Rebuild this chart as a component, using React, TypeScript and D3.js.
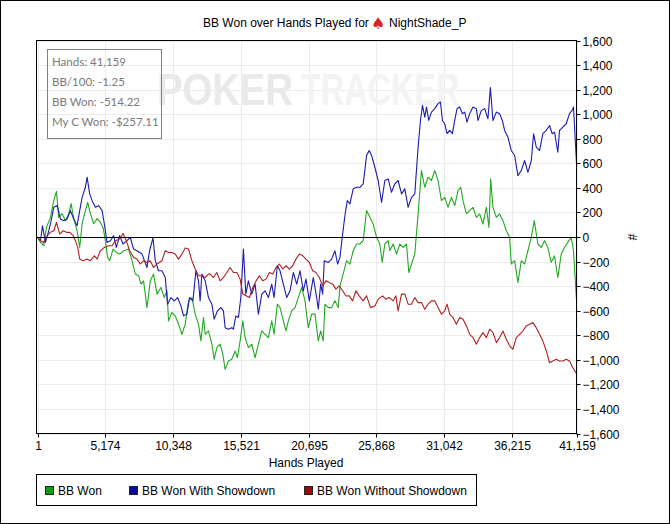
import React from 'react';
import * as d3 from 'd3';

// hands / cumulative BB samples
const greenHands: number[] = [
  1, 230, 480, 686, 991, 1242, 1448, 1624, 1883, 2134, 2386, 2569, 2767, 3026, 3224, 3407, 3659, 3834, 4040, 4291,
  4550, 4802, 5008, 5183, 5358, 5511, 5770, 6021, 6273, 6578, 6959, 7218, 7470, 7721, 7904, 8102, 8361, 8613, 8864, 9124,
  9428, 9680, 9886, 10008, 10267, 10518, 10770, 11029, 11281, 11532, 11791, 12043, 12294, 12477, 12676, 12805, 13057, 13316, 13491, 13697,
  13948, 14154, 14329, 14581, 14840, 15092, 15267, 15473, 15678, 15854, 16105, 16364, 16616, 16868, 17127, 17378, 17630, 17889, 18064, 18316,
  18521, 18773, 18979, 19154, 19413, 19665, 19916, 20175, 20427, 20678, 20938, 21189, 21441, 21624, 21822, 21951, 22203, 22462, 22714, 22965,
  23095, 23346, 23605, 23857, 24108, 24367, 24619, 24870, 25129, 25381, 25632, 25892, 26143, 26319, 26525, 26776, 26906, 27157, 27416, 27668,
  27920, 28179, 28354, 28560, 28811, 29063, 29322, 29573, 29825, 30084, 30335, 30587, 30846, 31098, 31349, 31608, 31860, 32111, 32317, 32493,
  32752, 33003, 33255, 33514, 33765, 34017, 34276, 34474, 34604, 34780, 35039, 35290, 35542, 35801, 36053, 36182, 36434, 36685, 36944, 37196,
  37448, 37707, 37935, 38209, 38468, 38720, 38971, 39230, 39482, 39733, 39993, 40244, 40496, 40755, 40930, 41159,
];
const greenBB: number[] = [
  0, -44, -70, 78, 160, 296, 372, 160, 190, 133, 190, 272, 150, 51, -85, 108, 215, 282, 190, 108,
  150, 119, 78, -30, -166, -193, -98, -126, -139, -112, -98, -193, -302, -316, -384, -357, -575, -357, -302, -465,
  -411, -493, -438, -683, -615, -642, -710, -792, -710, -520, -493, -628, -710, -846, -656, -792, -765, -873, -996, -901,
  -873, -955, -1078, -1010, -996, -928, -983, -846, -683, -819, -901, -873, -983, -873, -765, -792, -819, -683, -792, -547,
  -575, -683, -765, -683, -602, -575, -493, -411, -520, -738, -628, -628, -846, -765, -846, -547, -575, -575, -520, -575,
  -400, -300, -193, -220, -112, -57, -57, -30, 215, 160, 106, -3, -57, -207, -57, -30, -112, -57, -139, -57,
  -85, -57, -289, -220, -139, 188, 541, 405, 487, 460, 541, 460, 296, 323, 242, 323, 256, 378, 405, 296,
  188, 215, 242, 160, 188, 106, 242, 78, 473, 242, 160, 188, 133, 51, -3, -220, -193, -371, -193, -220,
  -112, -3, 133, -57, -85, -30, -85, -207, -153, -330, -139, -85, -44, -3, -112, -514,
];

const blueHands: number[] = [
  1, 230, 381, 610, 861, 1044, 1242, 1502, 1753, 2005, 2264, 2515, 2767, 3026, 3224, 3407, 3659, 3788, 3986, 4169,
  4421, 4672, 4931, 5107, 5312, 5564, 5816, 6021, 6273, 6532, 6837, 7088, 7340, 7599, 7980, 8361, 8559, 8819, 8994, 9245,
  9505, 9756, 9932, 10191, 10442, 10694, 10953, 11151, 11410, 11608, 11868, 12096, 12294, 12420, 12553, 12805, 13057, 13316, 13491, 13743,
  14002, 14200, 14329, 14581, 14840, 14962, 15146, 15344, 15526, 15725, 15908, 16105, 16364, 16616, 16868, 17127, 17378, 17630, 17889, 18064,
  18316, 18521, 18773, 19032, 19284, 19535, 19794, 20046, 20298, 20504, 20755, 21060, 21319, 21441, 21624, 21777, 21899, 22203, 22462, 22714,
  22920, 23095, 23301, 23477, 23653, 23857, 24108, 24367, 24619, 24870, 25129, 25328, 25511, 25762, 26014, 26273, 26525, 26776, 27035, 27287,
  27538, 27797, 28049, 28301, 28560, 28811, 29063, 29245, 29399, 29573, 29703, 29879, 30084, 30335, 30587, 30770, 30923, 31098, 31274, 31479,
  31685, 31860, 32036, 32241, 32447, 32623, 32798, 33003, 33255, 33514, 33636, 33895, 34147, 34398, 34581, 34780, 35039, 35290, 35496, 35671,
  35923, 36182, 36434, 36685, 36944, 37196, 37448, 37707, 37883, 38087, 38339, 38590, 38850, 39101, 39307, 39482, 39733, 39863, 40115, 40374,
  40625, 40831, 40930, 41159,
];
const blueBB: number[] = [
  0, -30, 92, -44, 51, 133, 242, 256, 147, 133, 147, 215, 147, 92, 215, 323, 405, 487, 351, 296,
  242, 256, 215, 106, -44, -30, 11, -85, 11, -57, -30, -3, -98, -112, -139, -248, -112, -8, -193, -275,
  -275, -330, -547, -493, -520, -493, -561, -642, -628, -493, -520, -275, -357, -520, -302, -357, -493, -547, -669, -602,
  -575, -602, -738, -751, -738, -751, -642, -656, -493, -98, -465, -357, -465, -384, -628, -465, -438, -493, -384, -493,
  -234, -275, -384, -493, -438, -289, -384, -275, -438, -343, -520, -330, -493, -588, -384, -465, -193, -207, -180, -112,
  -220, -166, 24, 175, 296, 269, 392, 405, 405, 433, 664, 704, 664, 568, 460, 282, 460, 473, 364, 433,
  460, 351, 392, 242, 323, 351, 731, 949, 1072, 976, 1058, 949, 1017, 1045, 1086, 1099, 949, 922, 841, 868,
  841, 949, 1045, 1058, 1004, 1017, 935, 1004, 1058, 1045, 949, 1031, 1045, 963, 1216, 949, 1017, 1004, 949, 868,
  813, 704, 664, 500, 541, 623, 527, 623, 841, 731, 704, 841, 868, 908, 841, 854, 690, 868, 895, 922,
  1004, 1031, 1058, 600,
];

const redHands: number[] = [
  1, 230, 480, 739, 991, 1242, 1448, 1700, 1959, 2210, 2462, 2721, 2896, 3072, 3224, 3483, 3788, 4040, 4345, 4550,
  4802, 5107, 5434, 5694, 5945, 6273, 6532, 6784, 7035, 7340, 7599, 7851, 8102, 8361, 8613, 8864, 9124, 9505, 9756, 10008,
  10267, 10518, 10770, 11029, 11281, 11532, 11791, 12043, 12294, 12553, 12805, 13057, 13187, 13438, 13697, 13948, 14200, 14459, 14711, 14962,
  15222, 15473, 15678, 15930, 16182, 16441, 16693, 16944, 17203, 17455, 17706, 17965, 18217, 18468, 18727, 18979, 19231, 19490, 19741, 19993,
  20252, 20504, 20755, 21013, 21265, 21517, 21777, 22029, 22280, 22539, 22791, 23042, 23301, 23553, 23804, 24063, 24315, 24566, 24870, 25129,
  25435, 25762, 26014, 26349, 26601, 26852, 27157, 27363, 27538, 27797, 28049, 28301, 28560, 28811, 29063, 29322, 29573, 29825, 30084, 30335,
  30587, 30846, 31098, 31274, 31479, 31730, 31989, 32241, 32493, 32752, 33003, 33255, 33514, 33765, 34017, 34276, 34528, 34780, 35039, 35290,
  35542, 35801, 36053, 36303, 36563, 36814, 37066, 37325, 37576, 37828, 38087, 38339, 38590, 38850, 39101, 39353, 39612, 39863, 40115, 40374,
  40625, 40877, 41159,
];
const redBB: number[] = [
  0, -30, -44, 11, 38, 51, 119, 24, 51, 38, 38, 11, -30, -85, -180, -193, -180, -193, -153, -180,
  -112, -85, -71, -71, -30, -16, 29, -30, -112, -166, -180, -220, -193, -207, -193, -248, -220, -193, -112, -126,
  -126, -139, -180, -139, -90, -98, -193, -261, -316, -316, -330, -302, -302, -330, -289, -357, -330, -289, -248, -289,
  -289, -343, -465, -479, -493, -411, -357, -316, -357, -343, -289, -302, -248, -220, -261, -234, -261, -234, -180, -139,
  -153, -180, -207, -275, -289, -330, -398, -357, -371, -384, -424, -398, -438, -480, -479, -520, -438, -479, -520, -479,
  -575, -561, -506, -479, -506, -493, -520, -479, -602, -465, -465, -547, -547, -493, -534, -534, -588, -547, -520, -520,
  -575, -628, -602, -547, -628, -656, -710, -656, -669, -724, -792, -819, -873, -819, -779, -819, -751, -779, -860, -819,
  -765, -833, -887, -914, -819, -792, -765, -724, -710, -697, -738, -792, -846, -928, -1024, -1010, -996, -1010, -1010, -996,
  -1010, -1064, -1114,
];

const xTicks: number[] = [1, 5174, 10348, 15521, 20695, 25868, 31042, 36215, 41159];
const yTicks: number[] = [-1600, -1400, -1200, -1000, -800, -600, -400, -200, 0, 200, 400, 600, 800, 1000, 1200, 1400, 1600];

const infoLines: string[] = ['Hands: 41,159', 'BB/100: -1.25', 'BB Won: -514.22', 'My C Won: -$257.11'];
const seriesNames: string[] = ['BB Won', 'BB Won With Showdown', 'BB Won Without Showdown'];
const lineColors: string[] = ['#22a822', '#1c1cb0', '#b02020'];
const swatchColors: string[] = ['#119911', '#0a0a99', '#a00a0a'];

const W = 670;
const H = 524;
const font = '"Liberation Sans", Arial, sans-serif';

const App: React.FC = () => {
  const left = 36.5;
  const right = 576.5;
  const top = 40.5;
  const bottom = 433.5;

  const x = d3.scaleLinear().domain([1, 41159]).range([left + 1, right]);
  const y = d3.scaleLinear().domain([-1600, 1600]).range([bottom, top]);
  const fmt = d3.format(',');

  const series = [
    { hands: greenHands, bb: greenBB },
    { hands: blueHands, bb: blueBB },
    { hands: redHands, bb: redBB },
  ];

  const line = d3
    .line<[number, number]>()
    .x((d) => x(d[0]))
    .y((d) => y(d[1]));

  const legendX = [45.5, 129.5, 304.5];

  return (
    <div style={{ position: 'absolute', left: 0, top: 0 }}>
      <svg width={W} height={H} style={{ display: 'block', fontFamily: font }}>
        <rect x={0} y={0} width={W} height={H} fill="#fff" />
        <rect x={0.5} y={0.5} width={W - 1} height={H - 1} fill="none" stroke="#000" />

        {/* title */}
        <text x={203} y={27} fontSize={12} fill="#000">BB Won over Hands Played for</text>
        <text x={371} y={29} fontSize={16} fill="#d8261c" fontFamily='"DejaVu Sans", sans-serif'>♠</text>
        <text x={389} y={27} fontSize={12} fill="#000">NightShade_P</text>

        {/* grid */}
        <g stroke="#ebebeb" strokeWidth={1}>
          {yTicks.map((t) => (
            <line key={`gy${t}`} x1={left} x2={right} y1={Math.round(y(t)) + 0.5} y2={Math.round(y(t)) + 0.5} />
          ))}
          {xTicks.map((t) => (
            <line key={`gx${t}`} x1={Math.round(x(t)) + 0.5} x2={Math.round(x(t)) + 0.5} y1={top} y2={bottom} />
          ))}
        </g>

        {/* watermark, squeezed horizontally */}
        <g fontSize={45} fontWeight="bold">
          <text transform="translate(157,105) scale(0.85,1)" fill="#e9e9e9">POKER</text>
          <text transform="translate(301,105) scale(0.72,1)" fill="#f3f3f3">TRACKER</text>
        </g>

        {/* info box */}
        <rect x={47.5} y={49.5} width={114} height={89} fill="none" stroke="#808080" />
        {infoLines.map((s, i) => (
          <text key={s} x={52} y={65.5 + i * 20} fontSize={11.5} fill="#7a7a7a" fontFamily="Lato, sans-serif">
            {s}
          </text>
        ))}

        {/* series */}
        <g fill="none" strokeWidth={1.1} strokeLinejoin="round">
          {series.map((s, i) => (
            <path
              key={seriesNames[i]}
              d={line(s.hands.map((h, j) => [h, s.bb[j]] as [number, number])) ?? ''}
              stroke={lineColors[i]}
            />
          ))}
        </g>

        {/* zero line */}
        <line x1={left} x2={right} y1={Math.round(y(0)) + 0.5} y2={Math.round(y(0)) + 0.5} stroke="#000" />

        {/* frame */}
        <rect x={left} y={top} width={right - left} height={bottom - top} fill="none" stroke="#000" />

        {/* right axis */}
        <g fontSize={12} fill="#000">
          {yTicks.map((t) => (
            <g key={`yt${t}`} transform={`translate(0,${Math.round(y(t)) + 0.5})`}>
              <line x1={right} x2={right + 4} stroke="#000" />
              <text x={right + 6} dy="0.35em">{fmt(t)}</text>
            </g>
          ))}
        </g>
        <text
          transform="translate(632,237) rotate(90)"
          textAnchor="middle"
          dy="0.35em"
          fontSize={12}
        >
          #
        </text>

        {/* bottom axis */}
        <g fontSize={12} fill="#000">
          {xTicks.map((t) => (
            <g key={`xt${t}`} transform={`translate(${Math.round(x(t)) + 0.5},0)`}>
              <line y1={bottom} y2={bottom + 4} stroke="#000" />
              <text y={450} textAnchor="middle">{fmt(t)}</text>
            </g>
          ))}
        </g>
        <text x={306} y={467} textAnchor="middle" fontSize={12}>Hands Played</text>

        {/* legend */}
        <rect x={36.5} y={474.5} width={440} height={31} fill="#fff" stroke="#000" />
        {seriesNames.map((name, i) => (
          <g key={name}>
            <rect x={legendX[i]} y={486.5} width={8} height={8} fill={swatchColors[i]} stroke="#222" />
            <text x={legendX[i] + 12.5} y={494.5} fontSize={12}>{name}</text>
          </g>
        ))}
      </svg>
    </div>
  );
};

export default App;
